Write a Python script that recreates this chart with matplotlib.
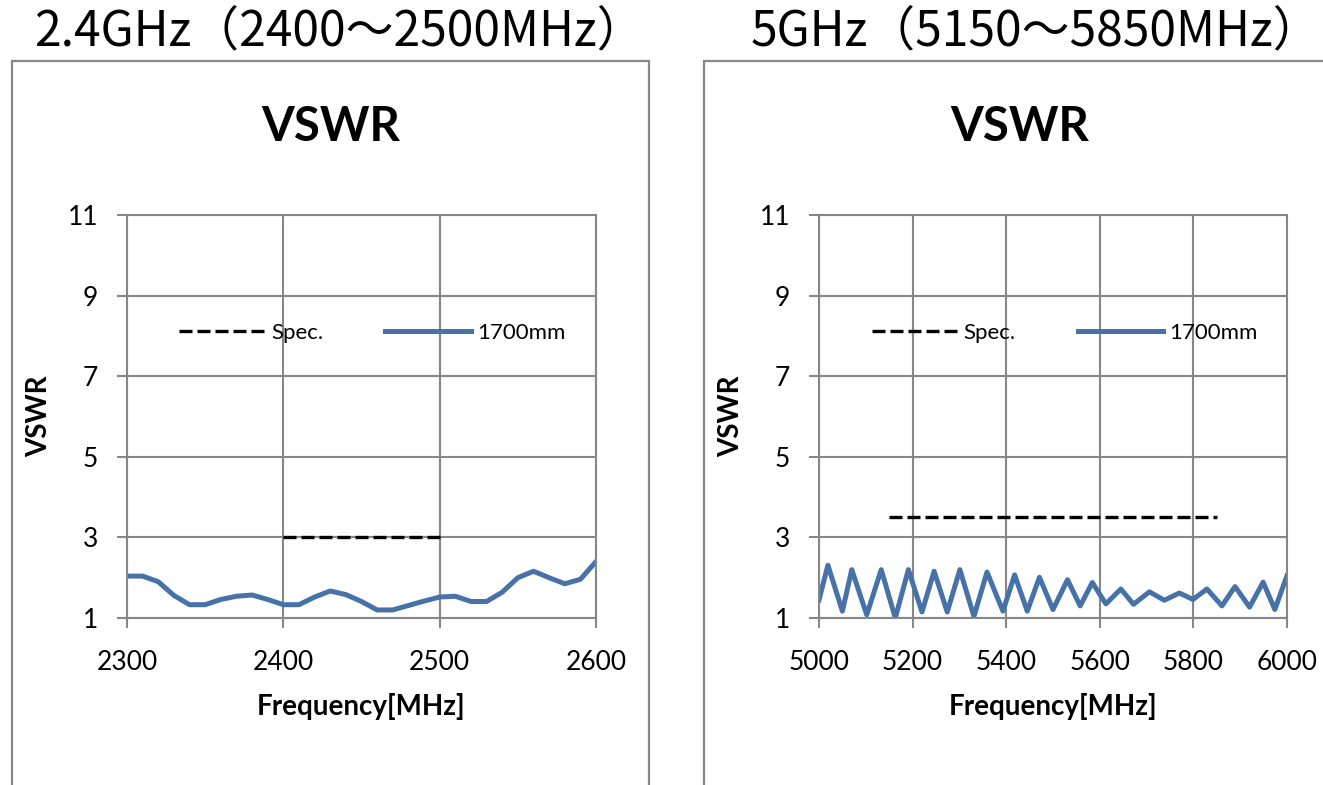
import matplotlib.pyplot as plt
from matplotlib.patches import Rectangle

plt.rcParams['font.family'] = ['Lato', 'DejaVu Sans']

# 2.4GHz band
freq_24 = [2300, 2310, 2320, 2330, 2340, 2350, 2360, 2370, 2380, 2390,
           2400, 2410, 2420, 2430, 2440, 2450, 2460, 2470, 2480, 2490,
           2500, 2510, 2520, 2530, 2540, 2550, 2560, 2570, 2580, 2590, 2600]
vswr_24 = [2.04, 2.04, 1.90, 1.56, 1.33, 1.33, 1.46, 1.54, 1.57, 1.46,
           1.33, 1.33, 1.52, 1.67, 1.58, 1.41, 1.20, 1.20, 1.31, 1.42,
           1.52, 1.54, 1.41, 1.41, 1.64, 2.00, 2.16, 2.00, 1.85, 1.96, 2.40]
spec_24_freq = [2400, 2500]
spec_24_vswr = [3, 3]

# 5GHz band
freq_5 = [5000, 5019, 5050, 5070, 5102, 5133, 5163, 5191, 5220, 5246,
          5274, 5301, 5331, 5359, 5393, 5418, 5445, 5471, 5500, 5531,
          5558, 5584, 5613, 5645, 5672, 5706, 5738, 5770, 5799, 5829,
          5861, 5889, 5920, 5949, 5974, 6000]
vswr_5 = [1.45, 2.31, 1.17, 2.20, 1.08, 2.20, 1.00, 2.20, 1.15, 2.16,
          1.15, 2.20, 1.04, 2.14, 1.17, 2.07, 1.17, 2.01, 1.21, 1.95,
          1.30, 1.88, 1.35, 1.72, 1.34, 1.65, 1.44, 1.62, 1.46, 1.72,
          1.30, 1.78, 1.27, 1.89, 1.21, 2.05]
spec_5_freq = [5150, 5850]
spec_5_vswr = [3.5, 3.5]

y_ticks = [1, 3, 5, 7, 9, 11]
x_ticks_24 = [2300, 2400, 2500, 2600]
x_ticks_5 = [5000, 5200, 5400, 5600, 5800, 6000]

W, H = 1323, 785
fig = plt.figure(figsize=(W / 100, H / 100), dpi=100)
grid_color = '#878787'
line_color = '#4672a8'

# outer frames
for x0, x1 in [(12, 649), (704, 1340)]:
    fig.patches.append(Rectangle((x0 / W, -0.05), (x1 - x0) / W, (H - 61) / H + 0.05,
                                 transform=fig.transFigure, fill=False,
                                 edgecolor=grid_color, linewidth=1.6))

panels = [
    (127, 596, freq_24, vswr_24, spec_24_freq, spec_24_vswr, x_ticks_24,
     '2.4GHz（2400～2500MHz）', 339, 34.5, 331, 0.523),
    (819, 1287, freq_5, vswr_5, spec_5_freq, spec_5_vswr, x_ticks_5,
     '5GHz（5150～5850MHz）', 1036, 34.5, 1020, 0.525),
]

for (px0, px1, fx, fy, sx, sy, xt, band_title, band_x, band_fs,
     title_x, leg_x) in panels:
    ax = fig.add_axes([px0 / W, 1 - 618 / H, (px1 - px0) / W, (618 - 215) / H])
    ax.plot(sx, sy, color='black', linestyle=(0, (3.9, 1.5)), linewidth=2.4,
            label='Spec.')
    ax.plot(fx, fy, color=line_color, linewidth=3.6, label='1700mm',
            solid_joinstyle='round')
    ax.set_xlim(xt[0], xt[-1])
    ax.set_ylim(1, 11)
    ax.set_xticks(xt)
    ax.set_yticks(y_ticks)
    ax.grid(True, color=grid_color, linewidth=1.5)
    ax.set_axisbelow(True)
    for s in ax.spines.values():
        s.set_color(grid_color)
        s.set_linewidth(1.5)
    ax.tick_params(colors=grid_color, length=7.2, width=1.5, labelsize=19,
                   labelcolor='black', direction='out')
    ax.tick_params(axis='y', pad=13.7)
    ax.tick_params(axis='x', pad=16)
    ax.set_xlabel('Frequency[MHz]', fontsize=20, fontweight='bold')
    ax.set_ylabel('VSWR', fontsize=20, fontweight='bold')
    ax.xaxis.set_label_coords(0.5, (618 - 693) / 403)
    ax.yaxis.set_label_coords((52 - 127) / 469, 0.5)
    ax.legend(loc='center', bbox_to_anchor=(leg_x, 0.707), ncol=2, frameon=False,
              fontsize=16, handlelength=3.85, handletextpad=0.27, columnspacing=2.8)
    fig.text(title_x / W, 1 - 127 / H, 'VSWR', ha='center', va='center',
             fontsize=34, fontweight='bold')
    fig.text(band_x / W, 1 - 32 / H, band_title, ha='center', va='center',
             fontsize=band_fs, family=['Noto Sans CJK JP', 'DejaVu Sans'])

fig.savefig('out.png', dpi=100)
